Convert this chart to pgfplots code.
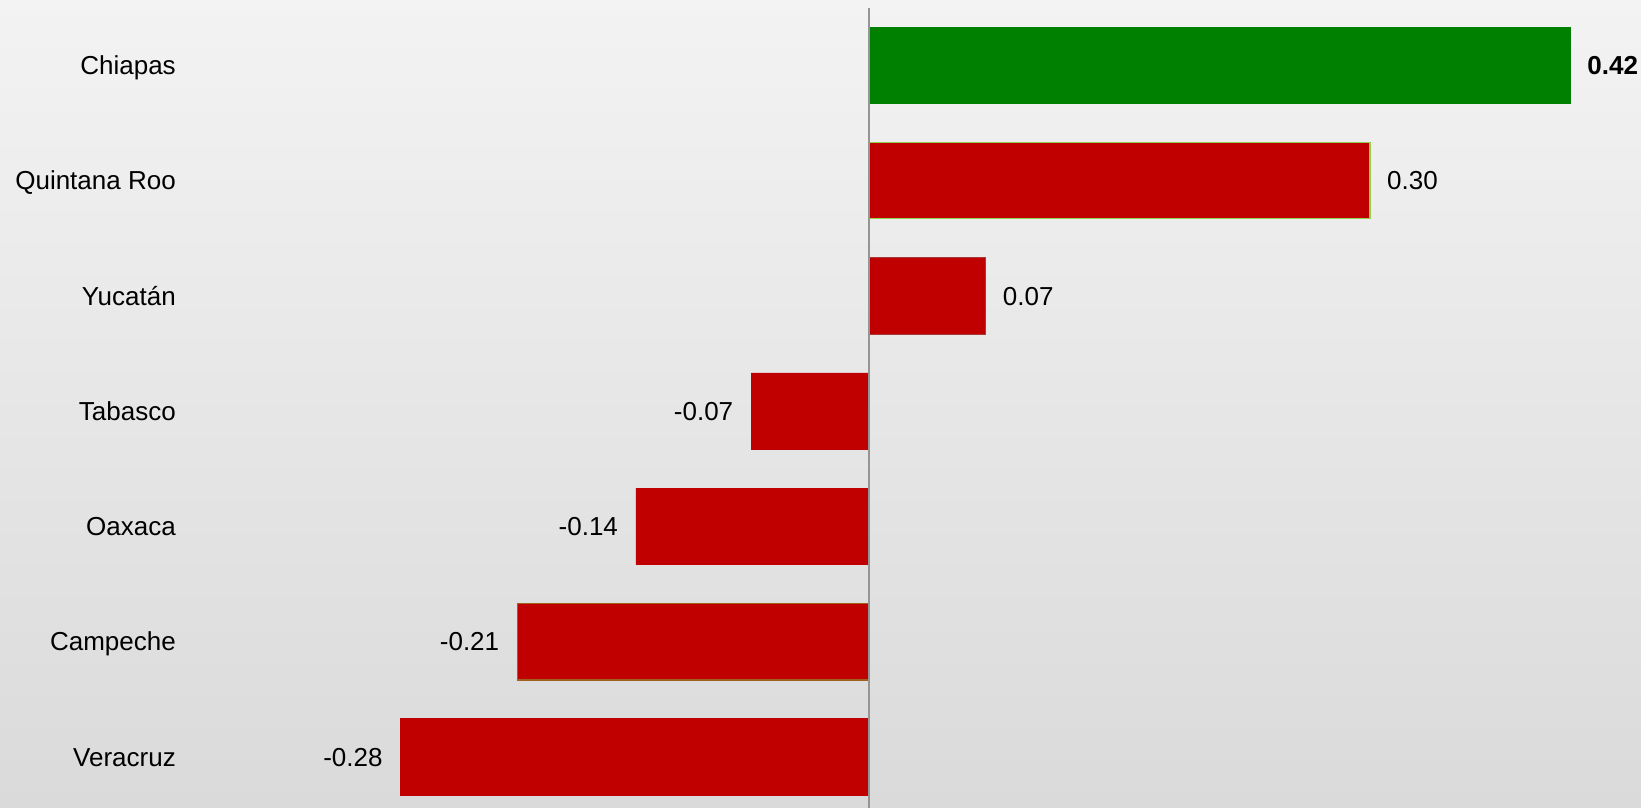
\documentclass[border=0pt]{standalone}
\usepackage{pgfplots}
\pgfplotsset{compat=1.18}
\usepackage{fontspec}
\setmainfont{Liberation Sans}
\definecolor{barred}{HTML}{C00000}
\definecolor{bargreen}{HTML}{008000}
\definecolor{edgegreen}{HTML}{92D050}
\definecolor{edgebrown}{HTML}{A0601E}
\definecolor{edgedark}{HTML}{A83A3A}
\definecolor{zeroline}{HTML}{959595}
\definecolor{bgtop}{HTML}{F3F3F3}
\definecolor{bgbot}{HTML}{DADADA}
\begin{document}
\begin{tikzpicture}
\begin{axis}[
  scale only axis,
  width=820.5pt, height=404pt,
  xmin=-0.5201, xmax=0.4621,
  ymin=-0.44, ymax=6.566,
  axis line style={draw=none},
  axis background/.style={shade, top color=bgtop, bottom color=bgbot},
  xtick=\empty,
  ytick={0,1,2,3,4,5,6},
  yticklabels={Veracruz,Campeche,Oaxaca,Tabasco,Yucatán,Quintana Roo,Chiapas},
  major tick length=0pt,
  yticklabel style={anchor=base east, inner sep=0pt, xshift=88pt, yshift=-4.6pt,
    font=\fontsize{13}{15}\selectfont},
  clip=false,
  point meta=explicit symbolic,
  every node near coord/.append style={inner sep=0pt, font=\fontsize{13}{15}\selectfont},
]
% Chiapas
\addplot[xbar, bar width=0.663, bar shift=0pt, fill=bargreen, draw=bargreen,
  nodes near coords, nodes near coords style={anchor=base west, xshift=8.3pt, yshift=-4.6pt, font=\fontsize{13}{15}\selectfont\bfseries}]
  coordinates {(0.42,6) [0.42]};
% Quintana Roo
\addplot[xbar, bar width=0.663, bar shift=0pt, fill=barred, draw=edgegreen, line width=0.6pt,
  nodes near coords, nodes near coords style={anchor=base west, xshift=8.3pt, yshift=-4.6pt}]
  coordinates {(0.30,5) [0.30]};
% Yucatan
\addplot[xbar, bar width=0.663, bar shift=0pt, fill=barred, draw=edgedark, line width=0.5pt,
  nodes near coords, nodes near coords style={anchor=base west, xshift=8.3pt, yshift=-4.6pt}]
  coordinates {(0.070,4) [0.07]};
% Negatives
\addplot[xbar, bar width=0.663, bar shift=0pt, fill=barred, draw=barred, line width=0.4pt,
  nodes near coords, nodes near coords style={anchor=base east, xshift=-8.8pt, yshift=-4.6pt}]
  coordinates {(-0.0705,3) [-0.07] (-0.1395,2) [-0.14] (-0.2804,0) [-0.28]};
% Campeche
\addplot[xbar, bar width=0.663, bar shift=0pt, fill=barred, draw=edgebrown, line width=0.6pt,
  nodes near coords, nodes near coords style={anchor=base east, xshift=-8.8pt, yshift=-4.6pt}]
  coordinates {(-0.2105,1) [-0.21]};
\draw[zeroline, line width=1pt] (axis cs:0,-0.44) -- (axis cs:0,6.497);
\end{axis}
\end{tikzpicture}
\end{document}
